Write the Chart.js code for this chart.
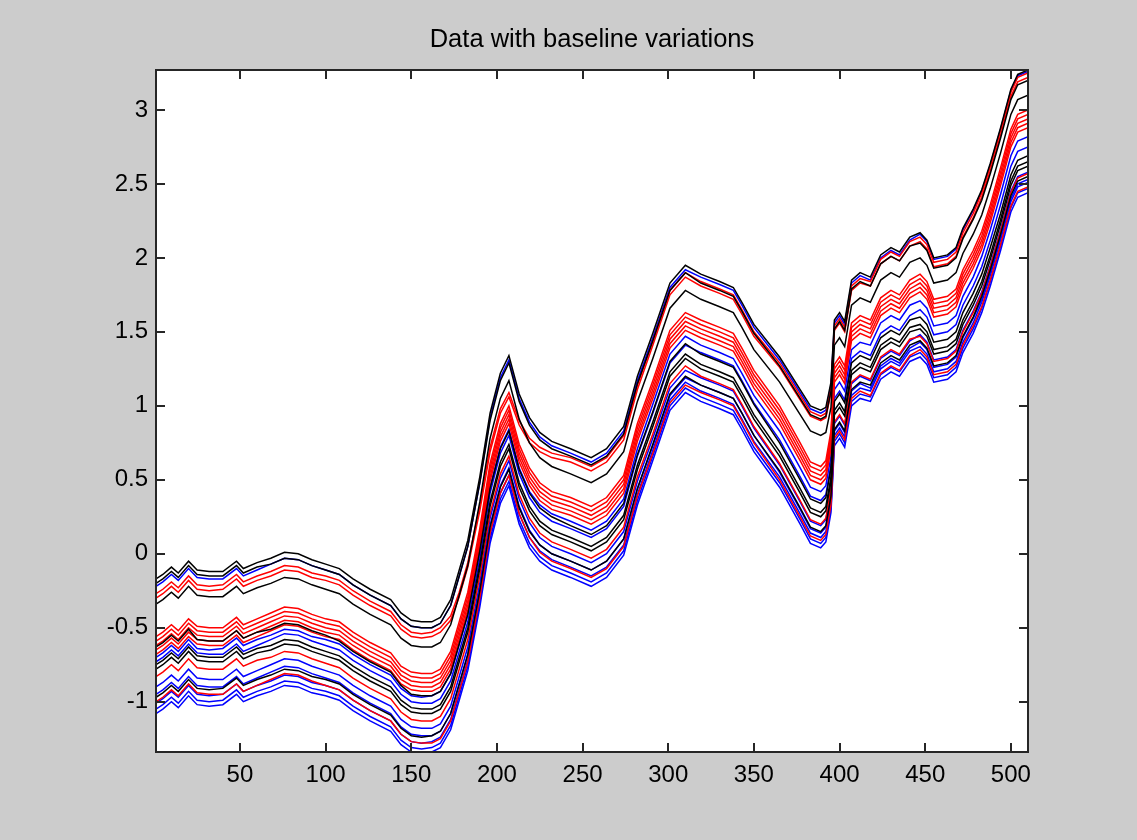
<!DOCTYPE html>
<html>
<head>
<meta charset="utf-8">
<title>Data with baseline variations</title>
<script src="https://cdn.jsdelivr.net/npm/chart.js@4.4.1/dist/chart.umd.min.js"></script>
<style>
  html, body { margin: 0; padding: 0; background: #cccccc; }
  canvas { display: block; }
</style>
</head>
<body>
<canvas id="chart" width="1137" height="840"></canvas>
<script>
// Sample positions (variable index) shared by every curve
const xValues = [1,5,10,14,20,25,32,40,48,52,60,68,76,84,92,100,108,116,126,138,144,150,156,162,167,173,178,183,190,196,202,207,213,219,225,232,243,255,264,274,282,291,301,310,319,330,338,343,350,365,377,383,389,392,395,397,400,403,407,412,418,424,430,435,441,447,451,455,463,468,472,478,483,488,494,500,504,510];

// Black curves
const black1 = [-0.17,-0.14,-0.09,-0.13,-0.05,-0.11,-0.12,-0.12,-0.05,-0.10,-0.06,-0.03,0.01,0.00,-0.04,-0.07,-0.10,-0.17,-0.24,-0.31,-0.40,-0.45,-0.46,-0.46,-0.43,-0.31,-0.11,0.09,0.52,0.95,1.22,1.34,1.08,0.92,0.82,0.76,0.71,0.65,0.71,0.86,1.20,1.49,1.83,1.95,1.89,1.84,1.80,1.70,1.55,1.33,1.11,1.00,0.97,0.99,1.16,1.58,1.63,1.57,1.85,1.90,1.87,2.02,2.07,2.04,2.14,2.17,2.12,2.00,2.02,2.07,2.20,2.33,2.46,2.64,2.88,3.14,3.24,3.27];
const black2 = [-0.20,-0.17,-0.12,-0.16,-0.08,-0.14,-0.15,-0.15,-0.08,-0.13,-0.09,-0.07,-0.03,-0.04,-0.08,-0.11,-0.14,-0.21,-0.28,-0.35,-0.44,-0.49,-0.50,-0.50,-0.47,-0.35,-0.15,0.05,0.48,0.90,1.17,1.29,1.03,0.87,0.77,0.71,0.66,0.60,0.66,0.81,1.15,1.44,1.78,1.90,1.83,1.78,1.74,1.64,1.49,1.27,1.05,0.94,0.91,0.93,1.10,1.52,1.57,1.51,1.79,1.84,1.81,1.96,2.01,1.98,2.08,2.10,2.05,1.93,1.95,2.00,2.13,2.26,2.39,2.57,2.81,3.07,3.17,3.20];
const black3 = [-0.34,-0.31,-0.26,-0.30,-0.22,-0.28,-0.29,-0.29,-0.22,-0.27,-0.23,-0.20,-0.16,-0.17,-0.21,-0.24,-0.27,-0.34,-0.41,-0.48,-0.57,-0.62,-0.63,-0.63,-0.60,-0.48,-0.28,-0.08,0.35,0.78,1.05,1.17,0.91,0.75,0.65,0.59,0.54,0.48,0.54,0.69,1.03,1.32,1.66,1.78,1.72,1.67,1.63,1.53,1.38,1.16,0.94,0.83,0.80,0.82,0.99,1.41,1.46,1.40,1.68,1.73,1.70,1.85,1.90,1.87,1.97,2.00,1.95,1.83,1.85,1.90,2.03,2.16,2.29,2.47,2.71,2.97,3.07,3.10];
const black4 = [-0.63,-0.60,-0.55,-0.59,-0.51,-0.58,-0.59,-0.59,-0.52,-0.57,-0.53,-0.51,-0.47,-0.48,-0.52,-0.55,-0.59,-0.66,-0.73,-0.80,-0.89,-0.95,-0.96,-0.96,-0.93,-0.81,-0.61,-0.41,0.02,0.44,0.71,0.83,0.57,0.41,0.31,0.25,0.19,0.13,0.19,0.34,0.67,0.96,1.30,1.42,1.35,1.30,1.26,1.16,1.01,0.75,0.50,0.37,0.34,0.38,0.58,1.03,1.08,1.02,1.29,1.34,1.31,1.46,1.51,1.48,1.58,1.60,1.55,1.43,1.45,1.50,1.63,1.76,1.89,2.07,2.30,2.56,2.66,2.69];
const black5 = [-0.75,-0.72,-0.67,-0.71,-0.63,-0.69,-0.70,-0.70,-0.63,-0.68,-0.64,-0.62,-0.58,-0.59,-0.63,-0.66,-0.69,-0.76,-0.83,-0.90,-0.99,-1.04,-1.05,-1.05,-1.02,-0.90,-0.70,-0.50,-0.07,0.35,0.62,0.74,0.48,0.32,0.22,0.16,0.11,0.05,0.11,0.26,0.60,0.89,1.23,1.35,1.28,1.23,1.19,1.09,0.94,0.69,0.44,0.31,0.28,0.32,0.52,0.97,1.02,0.96,1.24,1.29,1.26,1.41,1.46,1.43,1.53,1.55,1.50,1.38,1.40,1.45,1.58,1.71,1.84,2.02,2.26,2.52,2.62,2.65];
const black6 = [-0.78,-0.75,-0.70,-0.74,-0.66,-0.72,-0.73,-0.73,-0.66,-0.71,-0.67,-0.65,-0.61,-0.62,-0.66,-0.69,-0.72,-0.79,-0.86,-0.93,-1.02,-1.07,-1.08,-1.08,-1.05,-0.93,-0.73,-0.53,-0.10,0.32,0.59,0.71,0.45,0.29,0.19,0.13,0.08,0.02,0.08,0.23,0.57,0.86,1.20,1.32,1.25,1.20,1.16,1.06,0.91,0.66,0.41,0.28,0.25,0.29,0.49,0.94,0.99,0.93,1.21,1.26,1.23,1.38,1.43,1.40,1.50,1.52,1.47,1.35,1.37,1.42,1.55,1.68,1.81,1.99,2.23,2.49,2.59,2.62];
const black7 = [-0.97,-0.94,-0.89,-0.93,-0.85,-0.91,-0.92,-0.91,-0.84,-0.89,-0.85,-0.82,-0.78,-0.79,-0.83,-0.85,-0.88,-0.95,-1.02,-1.09,-1.18,-1.23,-1.24,-1.23,-1.20,-1.08,-0.88,-0.68,-0.25,0.18,0.45,0.57,0.31,0.15,0.06,0.00,-0.05,-0.11,-0.05,0.10,0.44,0.74,1.08,1.20,1.14,1.09,1.05,0.95,0.80,0.56,0.31,0.18,0.15,0.19,0.39,0.84,0.89,0.83,1.11,1.16,1.14,1.29,1.34,1.31,1.41,1.44,1.39,1.27,1.29,1.34,1.47,1.60,1.74,1.92,2.16,2.42,2.52,2.55];

// Red curves
const red1 = [-0.27,-0.24,-0.19,-0.23,-0.15,-0.21,-0.22,-0.21,-0.14,-0.19,-0.15,-0.12,-0.08,-0.09,-0.13,-0.15,-0.18,-0.25,-0.32,-0.39,-0.48,-0.53,-0.54,-0.53,-0.50,-0.42,-0.26,-0.06,0.32,0.72,0.98,1.09,0.90,0.78,0.72,0.68,0.65,0.59,0.65,0.80,1.14,1.44,1.78,1.90,1.84,1.79,1.75,1.65,1.50,1.29,1.07,0.96,0.93,0.95,1.12,1.54,1.59,1.53,1.81,1.86,1.84,1.99,2.04,2.01,2.11,2.14,2.09,1.97,1.99,2.04,2.17,2.30,2.44,2.62,2.86,3.12,3.22,3.25];
const red2 = [-0.30,-0.27,-0.22,-0.26,-0.18,-0.24,-0.25,-0.24,-0.17,-0.22,-0.18,-0.15,-0.11,-0.12,-0.16,-0.18,-0.21,-0.28,-0.35,-0.42,-0.51,-0.56,-0.57,-0.56,-0.53,-0.45,-0.29,-0.09,0.29,0.69,0.95,1.06,0.87,0.75,0.69,0.65,0.62,0.56,0.62,0.77,1.11,1.41,1.75,1.87,1.81,1.76,1.72,1.62,1.47,1.26,1.04,0.93,0.90,0.92,1.09,1.51,1.56,1.50,1.78,1.83,1.81,1.96,2.01,1.98,2.08,2.11,2.06,1.94,1.96,2.01,2.14,2.27,2.41,2.59,2.83,3.09,3.19,3.22];
const red3 = [-0.56,-0.53,-0.48,-0.52,-0.44,-0.49,-0.50,-0.50,-0.43,-0.48,-0.44,-0.40,-0.36,-0.37,-0.41,-0.44,-0.46,-0.53,-0.60,-0.67,-0.76,-0.80,-0.81,-0.81,-0.78,-0.66,-0.46,-0.26,0.17,0.61,0.88,1.00,0.74,0.58,0.48,0.42,0.38,0.32,0.38,0.53,0.88,1.17,1.51,1.63,1.58,1.53,1.49,1.39,1.24,1.00,0.75,0.62,0.59,0.63,0.83,1.28,1.33,1.27,1.56,1.61,1.58,1.73,1.78,1.75,1.85,1.89,1.84,1.72,1.74,1.79,1.92,2.05,2.18,2.36,2.61,2.87,2.97,3.00];
const red4 = [-0.59,-0.56,-0.51,-0.55,-0.47,-0.52,-0.53,-0.53,-0.46,-0.51,-0.47,-0.43,-0.39,-0.40,-0.44,-0.47,-0.49,-0.56,-0.63,-0.70,-0.79,-0.83,-0.84,-0.84,-0.81,-0.69,-0.49,-0.29,0.14,0.58,0.85,0.97,0.71,0.55,0.45,0.39,0.35,0.29,0.35,0.50,0.85,1.14,1.48,1.60,1.55,1.50,1.46,1.36,1.21,0.97,0.72,0.59,0.56,0.60,0.80,1.25,1.30,1.24,1.53,1.58,1.55,1.70,1.75,1.72,1.82,1.86,1.81,1.69,1.71,1.76,1.89,2.02,2.15,2.33,2.58,2.84,2.94,2.97];
const red5 = [-0.62,-0.59,-0.54,-0.58,-0.50,-0.55,-0.56,-0.56,-0.49,-0.54,-0.50,-0.46,-0.42,-0.43,-0.47,-0.50,-0.52,-0.59,-0.66,-0.73,-0.82,-0.86,-0.87,-0.87,-0.84,-0.72,-0.52,-0.32,0.11,0.55,0.82,0.94,0.68,0.52,0.42,0.36,0.32,0.26,0.32,0.47,0.82,1.11,1.45,1.57,1.52,1.47,1.43,1.33,1.18,0.94,0.69,0.56,0.53,0.57,0.77,1.22,1.27,1.21,1.50,1.55,1.52,1.67,1.72,1.69,1.79,1.83,1.78,1.66,1.68,1.73,1.86,1.99,2.12,2.30,2.55,2.81,2.91,2.94];
const red6 = [-0.65,-0.62,-0.57,-0.61,-0.53,-0.58,-0.59,-0.59,-0.52,-0.57,-0.53,-0.49,-0.45,-0.46,-0.50,-0.53,-0.55,-0.62,-0.69,-0.76,-0.85,-0.89,-0.90,-0.90,-0.87,-0.75,-0.55,-0.35,0.08,0.52,0.79,0.91,0.65,0.49,0.39,0.33,0.29,0.23,0.29,0.44,0.79,1.08,1.42,1.54,1.49,1.44,1.40,1.30,1.15,0.91,0.66,0.53,0.50,0.54,0.74,1.19,1.24,1.18,1.47,1.52,1.49,1.64,1.69,1.66,1.76,1.80,1.75,1.63,1.65,1.70,1.83,1.96,2.09,2.27,2.52,2.78,2.88,2.91];
const red7 = [-0.68,-0.65,-0.60,-0.64,-0.56,-0.61,-0.62,-0.62,-0.55,-0.60,-0.56,-0.52,-0.48,-0.49,-0.53,-0.56,-0.58,-0.65,-0.72,-0.79,-0.88,-0.92,-0.93,-0.93,-0.90,-0.78,-0.58,-0.38,0.05,0.49,0.76,0.88,0.62,0.46,0.36,0.30,0.26,0.20,0.26,0.41,0.76,1.05,1.39,1.51,1.46,1.41,1.37,1.27,1.12,0.88,0.63,0.50,0.47,0.51,0.71,1.16,1.21,1.15,1.44,1.49,1.46,1.61,1.66,1.63,1.73,1.77,1.72,1.60,1.62,1.67,1.80,1.93,2.06,2.24,2.49,2.75,2.85,2.88];
const red8 = [-0.83,-0.80,-0.75,-0.79,-0.71,-0.77,-0.78,-0.78,-0.71,-0.76,-0.72,-0.70,-0.66,-0.67,-0.71,-0.74,-0.77,-0.84,-0.91,-0.98,-1.07,-1.12,-1.13,-1.13,-1.10,-0.98,-0.78,-0.58,-0.15,0.27,0.54,0.66,0.40,0.24,0.14,0.08,0.03,-0.03,0.03,0.18,0.52,0.81,1.15,1.27,1.20,1.15,1.11,1.01,0.86,0.61,0.36,0.23,0.20,0.24,0.44,0.89,0.94,0.88,1.16,1.21,1.18,1.33,1.38,1.35,1.45,1.47,1.42,1.30,1.32,1.37,1.50,1.63,1.76,1.94,2.18,2.44,2.54,2.57];
const red9 = [-1.00,-0.97,-0.92,-0.96,-0.88,-0.94,-0.95,-0.95,-0.88,-0.93,-0.89,-0.85,-0.81,-0.82,-0.86,-0.89,-0.92,-0.99,-1.06,-1.13,-1.22,-1.27,-1.28,-1.28,-1.25,-1.13,-0.93,-0.73,-0.30,0.14,0.41,0.53,0.27,0.11,0.01,-0.05,-0.10,-0.16,-0.10,0.05,0.39,0.68,1.02,1.14,1.09,1.04,1.00,0.90,0.75,0.50,0.25,0.12,0.09,0.13,0.33,0.78,0.83,0.77,1.05,1.10,1.07,1.22,1.27,1.24,1.34,1.38,1.33,1.21,1.23,1.28,1.41,1.54,1.67,1.85,2.09,2.35,2.45,2.48];

// Blue curves
const blue1 = [-0.22,-0.19,-0.14,-0.18,-0.10,-0.16,-0.17,-0.17,-0.10,-0.15,-0.11,-0.07,-0.03,-0.04,-0.08,-0.11,-0.14,-0.21,-0.28,-0.35,-0.44,-0.49,-0.50,-0.50,-0.47,-0.35,-0.15,0.05,0.48,0.92,1.19,1.31,1.05,0.89,0.79,0.73,0.68,0.62,0.68,0.83,1.17,1.46,1.80,1.92,1.87,1.82,1.78,1.68,1.53,1.31,1.09,0.98,0.95,0.97,1.14,1.56,1.61,1.55,1.83,1.88,1.85,2.00,2.05,2.02,2.12,2.16,2.11,1.99,2.01,2.06,2.19,2.32,2.45,2.63,2.87,3.13,3.23,3.26];
const blue2 = [-0.70,-0.67,-0.62,-0.66,-0.58,-0.64,-0.65,-0.64,-0.57,-0.62,-0.58,-0.55,-0.51,-0.52,-0.56,-0.58,-0.61,-0.68,-0.75,-0.82,-0.91,-0.96,-0.97,-0.96,-0.93,-0.81,-0.61,-0.41,0.02,0.45,0.72,0.84,0.58,0.42,0.33,0.27,0.22,0.16,0.22,0.37,0.71,1.01,1.35,1.47,1.41,1.36,1.32,1.22,1.07,0.83,0.58,0.45,0.42,0.46,0.66,1.11,1.16,1.10,1.38,1.43,1.41,1.56,1.61,1.58,1.68,1.71,1.66,1.54,1.56,1.61,1.74,1.87,2.01,2.19,2.43,2.69,2.79,2.82];
const blue3 = [-0.73,-0.70,-0.65,-0.69,-0.61,-0.67,-0.68,-0.68,-0.61,-0.66,-0.62,-0.58,-0.54,-0.55,-0.59,-0.62,-0.65,-0.72,-0.79,-0.86,-0.95,-1.00,-1.01,-1.01,-0.98,-0.86,-0.66,-0.46,-0.03,0.41,0.68,0.80,0.54,0.38,0.28,0.22,0.17,0.11,0.17,0.32,0.66,0.95,1.29,1.41,1.36,1.31,1.27,1.17,1.02,0.77,0.52,0.39,0.36,0.40,0.60,1.05,1.10,1.04,1.32,1.37,1.34,1.49,1.54,1.51,1.61,1.65,1.60,1.48,1.50,1.55,1.68,1.81,1.94,2.12,2.36,2.62,2.72,2.75];
const blue4 = [-0.90,-0.87,-0.82,-0.86,-0.78,-0.84,-0.85,-0.85,-0.78,-0.83,-0.79,-0.75,-0.71,-0.72,-0.76,-0.79,-0.82,-0.89,-0.96,-1.03,-1.12,-1.17,-1.18,-1.18,-1.15,-1.03,-0.83,-0.63,-0.20,0.24,0.51,0.63,0.37,0.21,0.11,0.05,0.00,-0.06,0.00,0.15,0.49,0.78,1.12,1.24,1.19,1.14,1.10,1.00,0.85,0.60,0.35,0.22,0.19,0.23,0.43,0.88,0.93,0.87,1.15,1.20,1.17,1.32,1.37,1.34,1.44,1.48,1.43,1.31,1.33,1.38,1.51,1.64,1.77,1.95,2.19,2.45,2.55,2.58];
const blue5 = [-0.95,-0.92,-0.87,-0.91,-0.83,-0.89,-0.90,-0.90,-0.83,-0.88,-0.84,-0.80,-0.76,-0.77,-0.81,-0.84,-0.87,-0.94,-1.01,-1.08,-1.17,-1.22,-1.23,-1.23,-1.20,-1.08,-0.88,-0.68,-0.25,0.19,0.46,0.58,0.32,0.16,0.06,0.00,-0.05,-0.11,-0.05,0.10,0.44,0.73,1.07,1.19,1.14,1.09,1.05,0.95,0.80,0.55,0.30,0.17,0.14,0.18,0.38,0.83,0.88,0.82,1.10,1.15,1.12,1.27,1.32,1.29,1.39,1.43,1.38,1.26,1.28,1.33,1.46,1.59,1.72,1.90,2.14,2.40,2.50,2.53];
const blue6 = [-1.01,-0.98,-0.93,-0.97,-0.89,-0.95,-0.96,-0.95,-0.88,-0.93,-0.89,-0.86,-0.82,-0.83,-0.87,-0.89,-0.92,-0.99,-1.06,-1.13,-1.22,-1.27,-1.28,-1.27,-1.24,-1.12,-0.92,-0.72,-0.29,0.14,0.41,0.53,0.27,0.11,0.02,-0.04,-0.09,-0.15,-0.09,0.06,0.40,0.70,1.04,1.16,1.10,1.05,1.01,0.91,0.76,0.52,0.27,0.14,0.11,0.15,0.35,0.80,0.85,0.79,1.07,1.12,1.10,1.25,1.30,1.27,1.37,1.40,1.35,1.23,1.25,1.30,1.43,1.56,1.70,1.88,2.12,2.38,2.48,2.51];
const blue7 = [-1.05,-1.02,-0.97,-1.01,-0.93,-0.99,-1.00,-0.99,-0.92,-0.97,-0.93,-0.90,-0.86,-0.87,-0.91,-0.93,-0.96,-1.03,-1.10,-1.17,-1.26,-1.31,-1.32,-1.31,-1.28,-1.16,-0.96,-0.76,-0.33,0.10,0.37,0.49,0.23,0.07,-0.02,-0.08,-0.13,-0.19,-0.13,0.02,0.36,0.66,1.00,1.12,1.06,1.01,0.97,0.87,0.72,0.48,0.23,0.10,0.07,0.11,0.31,0.76,0.81,0.75,1.03,1.08,1.06,1.21,1.26,1.23,1.33,1.36,1.31,1.19,1.21,1.26,1.39,1.52,1.66,1.84,2.08,2.34,2.44,2.47];
const blue8 = [-1.08,-1.05,-1.00,-1.04,-0.96,-1.02,-1.03,-1.02,-0.95,-1.00,-0.96,-0.93,-0.89,-0.90,-0.94,-0.96,-0.99,-1.06,-1.13,-1.20,-1.29,-1.34,-1.35,-1.34,-1.31,-1.19,-0.99,-0.79,-0.36,0.07,0.34,0.46,0.20,0.04,-0.05,-0.11,-0.16,-0.22,-0.16,-0.01,0.33,0.63,0.97,1.09,1.03,0.98,0.94,0.84,0.69,0.45,0.20,0.07,0.04,0.08,0.28,0.73,0.78,0.72,1.00,1.05,1.03,1.18,1.23,1.20,1.30,1.33,1.28,1.16,1.18,1.23,1.36,1.49,1.63,1.81,2.05,2.31,2.41,2.44];

// Axis ticks
const xTickValues = [50, 100, 150, 200, 250, 300, 350, 400, 450, 500];
const yTickValues = [-1, -0.5, 0, 0.5, 1, 1.5, 2, 2.5, 3];

const FONT = '"Liberation Sans", Arial, Helvetica, sans-serif';

const curves = [
  [black1, '#000000'], [black2, '#000000'], [black3, '#000000'],
  [black4, '#000000'], [black5, '#000000'], [black6, '#000000'], [black7, '#000000'],
  [red1, '#ff0000'], [red2, '#ff0000'], [red3, '#ff0000'], [red4, '#ff0000'],
  [red5, '#ff0000'], [red6, '#ff0000'], [red7, '#ff0000'], [red8, '#ff0000'], [red9, '#ff0000'],
  [blue1, '#0000ff'], [blue2, '#0000ff'], [blue3, '#0000ff'], [blue4, '#0000ff'],
  [blue5, '#0000ff'], [blue6, '#0000ff'], [blue7, '#0000ff'], [blue8, '#0000ff']
];

const datasets = curves.map(([values, color]) => ({
  data: xValues.map((x, i) => ({ x: x, y: values[i] })),
  borderColor: color,
  borderWidth: 1.5,
  pointRadius: 0,
  tension: 0,
  fill: false
}));

// White plot area, box and inward ticks on all four sides (MATLAB look)
const axesBox = {
  id: 'axesBox',
  beforeDraw(chart) {
    const { ctx, chartArea: a } = chart;
    ctx.save();
    ctx.fillStyle = '#ffffff';
    ctx.fillRect(a.left, a.top, a.right - a.left, a.bottom - a.top);
    ctx.restore();
  },
  afterDraw(chart) {
    const { ctx, chartArea: a, scales } = chart;
    const len = 9;
    ctx.save();
    ctx.strokeStyle = '#262626';
    ctx.lineWidth = 2;
    ctx.beginPath();
    scales.x.ticks.forEach(t => {
      const px = Math.round(scales.x.getPixelForValue(t.value));
      ctx.moveTo(px, a.bottom); ctx.lineTo(px, a.bottom - len);
      ctx.moveTo(px, a.top); ctx.lineTo(px, a.top + len);
    });
    scales.y.ticks.forEach(t => {
      const py = Math.round(scales.y.getPixelForValue(t.value));
      ctx.moveTo(a.left, py); ctx.lineTo(a.left + len, py);
      ctx.moveTo(a.right, py); ctx.lineTo(a.right - len, py);
    });
    ctx.stroke();
    ctx.strokeRect(a.left, a.top, a.right - a.left, a.bottom - a.top);
    ctx.restore();
  }
};

new Chart(document.getElementById('chart'), {
  type: 'line',
  data: { datasets: datasets },
  options: {
    responsive: false,
    animation: false,
    devicePixelRatio: 1,
    layout: { padding: { left: 0, right: 109, top: 0, bottom: 0 } },
    plugins: {
      legend: { display: false },
      tooltip: { enabled: false },
      title: {
        display: true,
        text: 'Data with baseline variations',
        fullSize: false,
        color: '#000000',
        font: { family: FONT, size: 25.5, weight: 'normal' },
        padding: { top: 25, bottom: 14.4 }
      }
    },
    scales: {
      x: {
        type: 'linear',
        min: 1,
        max: 510,
        afterBuildTicks: s => { s.ticks = xTickValues.map(v => ({ value: v })); },
        afterFit: s => { s.height = 88; },
        grid: { display: false, drawTicks: false },
        border: { display: false },
        ticks: {
          color: '#000000',
          font: { family: FONT, size: 24 },
          padding: 9,
          maxRotation: 0,
          autoSkip: false,
          callback: v => String(v)
        }
      },
      y: {
        type: 'linear',
        min: -1.34,
        max: 3.27,
        afterBuildTicks: s => { s.ticks = yTickValues.map(v => ({ value: v })); },
        afterFit: s => { s.width = 156; },
        grid: { display: false, drawTicks: false },
        border: { display: false },
        ticks: {
          color: '#000000',
          font: { family: FONT, size: 24 },
          padding: 8,
          autoSkip: false,
          callback: v => String(v)
        }
      }
    }
  },
  plugins: [axesBox]
});
</script>
</body>
</html>
